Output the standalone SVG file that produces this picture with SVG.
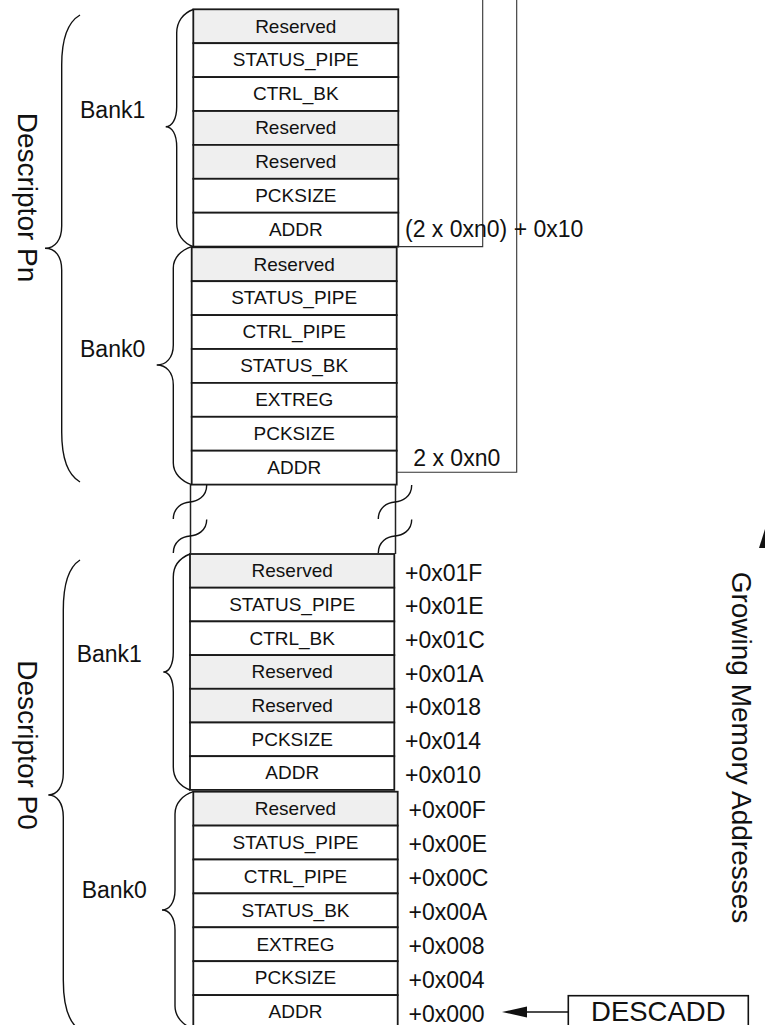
<svg xmlns="http://www.w3.org/2000/svg" width="765" height="1025" viewBox="0 0 765 1025">
<style>
.row{fill:#ffffff;stroke:#1a1a1a;stroke-width:1.8}
.res{fill:#efefef;stroke:#1a1a1a;stroke-width:1.8}
.reg{font-family:"Liberation Sans",Arial,sans-serif;font-size:19px;fill:#111;text-anchor:middle}
.lbl{font-family:"Liberation Sans",Arial,sans-serif;font-size:23px;fill:#111}
.big{font-family:"Liberation Sans",Arial,sans-serif;font-size:28px;fill:#111;text-anchor:middle}
.brace{fill:none;stroke:#111;stroke-width:1.4}
.wire{fill:none;stroke:#333;stroke-width:1.1}
.brk{fill:none;stroke:#222;stroke-width:1.5}
</style>

<g id="pn-bank1">
<rect class="res" x="193.3" y="9.3" width="205" height="33.9"/><text class="reg" x="295.8" y="32.5">Reserved</text>
<rect class="row" x="193.3" y="43.2" width="205" height="33.9"/><text class="reg" x="295.8" y="66.4">STATUS_PIPE</text>
<rect class="row" x="193.3" y="77.1" width="205" height="33.9"/><text class="reg" x="295.8" y="100.3">CTRL_BK</text>
<rect class="res" x="193.3" y="111" width="205" height="33.9"/><text class="reg" x="295.8" y="134.2">Reserved</text>
<rect class="res" x="193.3" y="144.9" width="205" height="33.9"/><text class="reg" x="295.8" y="168.1">Reserved</text>
<rect class="row" x="193.3" y="178.8" width="205" height="33.9"/><text class="reg" x="295.8" y="202">PCKSIZE</text>
<rect class="row" x="193.3" y="212.7" width="205" height="33.9"/><text class="reg" x="295.8" y="235.9">ADDR</text>
</g>

<g id="pn-bank0">
<rect class="res" x="191.7" y="247.3" width="205" height="33.9"/><text class="reg" x="294.2" y="270.5">Reserved</text>
<rect class="row" x="191.7" y="281.2" width="205" height="33.9"/><text class="reg" x="294.2" y="304.4">STATUS_PIPE</text>
<rect class="row" x="191.7" y="315.1" width="205" height="33.9"/><text class="reg" x="294.2" y="338.3">CTRL_PIPE</text>
<rect class="row" x="191.7" y="349" width="205" height="33.9"/><text class="reg" x="294.2" y="372.2">STATUS_BK</text>
<rect class="row" x="191.7" y="382.9" width="205" height="33.9"/><text class="reg" x="294.2" y="406.1">EXTREG</text>
<rect class="row" x="191.7" y="416.8" width="205" height="33.9"/><text class="reg" x="294.2" y="440">PCKSIZE</text>
<rect class="row" x="191.7" y="450.7" width="205" height="33.9"/><text class="reg" x="294.2" y="473.9">ADDR</text>
</g>

<g id="p0-bank1">
<rect class="res" x="190" y="554" width="204.3" height="33.7"/><text class="reg" x="292.2" y="577.1">Reserved</text>
<rect class="row" x="190" y="587.7" width="204.3" height="33.7"/><text class="reg" x="292.2" y="610.8">STATUS_PIPE</text>
<rect class="row" x="190" y="621.4" width="204.3" height="33.7"/><text class="reg" x="292.2" y="644.5">CTRL_BK</text>
<rect class="res" x="190" y="655.1" width="204.3" height="33.7"/><text class="reg" x="292.2" y="678.2">Reserved</text>
<rect class="res" x="190" y="688.8" width="204.3" height="33.7"/><text class="reg" x="292.2" y="711.9">Reserved</text>
<rect class="row" x="190" y="722.5" width="204.3" height="33.7"/><text class="reg" x="292.2" y="745.6">PCKSIZE</text>
<rect class="row" x="190" y="756.2" width="204.3" height="33.7"/><text class="reg" x="292.2" y="779.3">ADDR</text>
</g>

<g id="p0-bank0">
<rect class="res" x="193.3" y="791.7" width="204.4" height="33.9"/><text class="reg" x="295.5" y="814.9">Reserved</text>
<rect class="row" x="193.3" y="825.6" width="204.4" height="33.9"/><text class="reg" x="295.5" y="848.8">STATUS_PIPE</text>
<rect class="row" x="193.3" y="859.5" width="204.4" height="33.9"/><text class="reg" x="295.5" y="882.7">CTRL_PIPE</text>
<rect class="row" x="193.3" y="893.4" width="204.4" height="33.9"/><text class="reg" x="295.5" y="916.6">STATUS_BK</text>
<rect class="row" x="193.3" y="927.3" width="204.4" height="33.9"/><text class="reg" x="295.5" y="950.5">EXTREG</text>
<rect class="row" x="193.3" y="961.2" width="204.4" height="33.9"/><text class="reg" x="295.5" y="984.4">PCKSIZE</text>
<rect class="row" x="193.3" y="995.1" width="204.4" height="33.9"/><text class="reg" x="295.5" y="1018.3">ADDR</text>
</g>

<g id="break">
<line class="brk" x1="190.5" y1="484.6" x2="190.5" y2="554"/>
<line class="brk" x1="395.5" y1="484.6" x2="395.5" y2="554"/>
<path class="brace" d="M206.7,485 C206.7,497 197,501.5 190,502 C182,502.5 173.3,508 173.3,519"/>
<path class="brace" d="M206.7,519.5 C206.7,531 197,535.5 190,536 C182,536.5 173.3,542 173.3,553"/>
<path class="brace" d="M411.7,485 C411.7,497 402,501.5 395,502 C387,502.5 378.3,508 378.3,519"/>
<path class="brace" d="M411.7,519.5 C411.7,531 402,535.5 395,536 C387,536.5 378.3,542 378.3,553"/>
</g>

<g id="braces">
<path class="brace" d="M80,15 C68,22 61.7,40 61.7,65 L61.7,226 C61.7,240 55,248.3 45,248.3 C55,248.3 61.7,256 61.7,270 L61.7,432 C61.7,457 68,475 80,482"/>
<path class="brace" d="M193.3,9.5 C183,13 176.7,22 176.7,33 L176.7,107 C176.7,119 172,126.7 165.7,126.7 C172,126.7 176.7,134 176.7,147 L176.7,223 C176.7,234 183,243 193.3,246.6"/>
<path class="brace" d="M191.7,246.6 C181,250 173.3,258 173.3,268 L173.3,345 C173.3,358 166,365 156.7,365 C166,365 173.3,372 173.3,385 L173.3,463 C173.3,473 181,481 191.7,484.6"/>
<path class="brace" d="M80,560 C69,567 63.3,585 63.3,610 L63.3,773 C63.3,787 57,795 48.3,795 C57,795 63.3,803 63.3,817 L63.3,980 C63.3,1005 69,1023 80,1030"/>
<path class="brace" d="M190,554 C180,558 173.3,566 173.3,577 L173.3,652 C173.3,665 169,672 163.3,672 C169,672 173.3,679 173.3,692 L173.3,767 C173.3,778 180,786 190,790"/>
<path class="brace" d="M193.3,791.7 C183,795 175,803 175,814 L175,890 C175,903 169,910 162,910 C169,910 175,917 175,930 L175,1006 C175,1017 183,1025 193.3,1029"/>
</g>

<g id="labels">
<text class="lbl" x="80" y="118.3">Bank1</text>
<text class="lbl" x="80" y="356.7">Bank0</text>
<text class="lbl" x="76.7" y="661.7">Bank1</text>
<text class="lbl" x="81.7" y="898.3">Bank0</text>
<text class="big" transform="translate(18.3,197.5) rotate(90)">Descriptor Pn</text>
<text class="big" transform="translate(18.3,745) rotate(90)">Descriptor P0</text>
<text class="big" transform="translate(732,747.5) rotate(90)">Growing Memory Addresses</text>
</g>

<g id="addresses">
<text class="lbl" x="405" y="580.5">+0x01F</text>
<text class="lbl" x="405" y="614.2">+0x01E</text>
<text class="lbl" x="405" y="647.9">+0x01C</text>
<text class="lbl" x="405" y="681.6">+0x01A</text>
<text class="lbl" x="405" y="715.3">+0x018</text>
<text class="lbl" x="405" y="749">+0x014</text>
<text class="lbl" x="405" y="782.7">+0x010</text>
<text class="lbl" x="408.5" y="818.2">+0x00F</text>
<text class="lbl" x="408.5" y="852.1">+0x00E</text>
<text class="lbl" x="408.5" y="886">+0x00C</text>
<text class="lbl" x="408.5" y="919.9">+0x00A</text>
<text class="lbl" x="408.5" y="953.8">+0x008</text>
<text class="lbl" x="408.5" y="987.7">+0x004</text>
<text class="lbl" x="408.5" y="1021.6">+0x000</text>
</g>

<g id="connectors">
<path class="wire" d="M398.3,246.6 H482.7 V0"/>
<path class="wire" d="M396.7,472.3 H516.7 V0"/>
<line x1="568.3" y1="1012" x2="524" y2="1012" stroke="#111" stroke-width="1.6"/>
<polygon points="502,1012 527,1006.5 527,1017.5" fill="#111"/>
<polygon points="765,529 759,548 771,548" fill="#111"/>
</g>

<g id="offset-labels">
<text class="lbl" x="405" y="237.3">(2 x 0xn0) + 0x10</text>
<text class="lbl" x="413.3" y="465.7">2 x 0xn0</text>
</g>

<g id="descadd">
<rect x="568.3" y="995.7" width="180" height="40" fill="#fff" stroke="#111" stroke-width="1.6"/>
<text class="big" x="658.3" y="1021" style="font-size:27.5px">DESCADD</text>
</g>
</svg>
